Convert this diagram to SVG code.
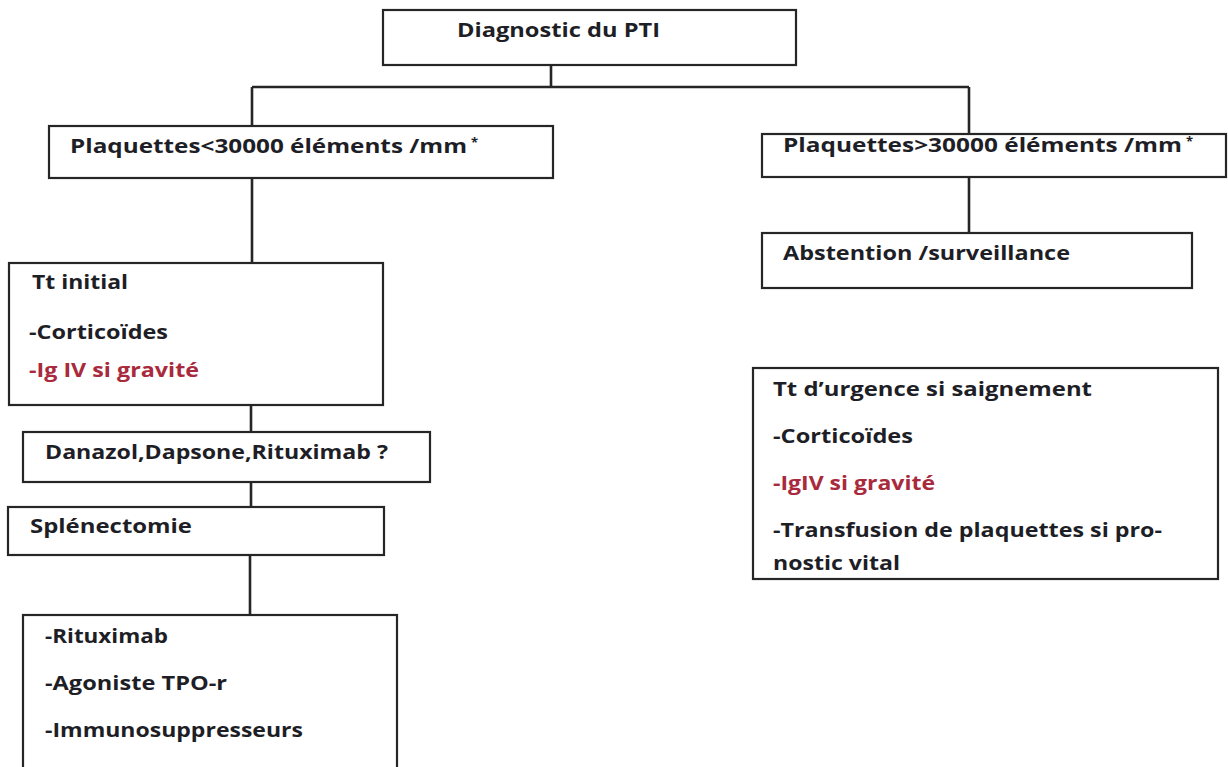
<svg xmlns="http://www.w3.org/2000/svg" width="1228" height="767" viewBox="0 0 1228 767">
<style>
.box{fill:#ffffff;stroke:#262626;stroke-width:2.2}
.c{fill:none;stroke:#262626;stroke-width:2.6}
.t{font-family:"Open Sans","Liberation Sans",sans-serif;font-weight:700;font-size:19px;fill:#1e1e26}
.r{fill:#a82a3c}
.s{font-size:13px}
</style>
<rect width="1228" height="767" fill="#ffffff"/>
<g id="connectors">
<path class="c" d="M551 65V87M252 87H969M252 87V126M969 87V134M252 178V263M969 177V233M251 405V432M251 482V507M250 555V615"/>
</g>
<g id="n_diag">
<rect class="box" x="383" y="10" width="413" height="55"/>
<text class="t" x="457" y="37" textLength="203" lengthAdjust="spacingAndGlyphs">Diagnostic du PTI</text>
</g>
<g id="n_low">
<rect class="box" x="49" y="126" width="504" height="52"/>
<text class="t" x="70" y="153"><tspan textLength="397" lengthAdjust="spacingAndGlyphs">Plaquettes&lt;30000 éléments /mm</tspan><tspan class="s" dx="4" dy="-6">*</tspan></text>
</g>
<g id="n_high">
<rect class="box" x="762" y="134" width="464" height="43"/>
<text class="t" x="783" y="152"><tspan textLength="399" lengthAdjust="spacingAndGlyphs">Plaquettes&gt;30000 éléments /mm</tspan><tspan class="s" dx="4" dy="-6">*</tspan></text>
</g>
<g id="n_abst">
<rect class="box" x="762" y="233" width="430" height="55"/>
<text class="t" x="783" y="260" textLength="287" lengthAdjust="spacingAndGlyphs">Abstention /surveillance</text>
</g>
<g id="n_init">
<rect class="box" x="9" y="263" width="374" height="142"/>
<text class="t" x="32" y="289" textLength="96" lengthAdjust="spacingAndGlyphs">Tt initial</text>
<text class="t" x="29" y="339" textLength="139" lengthAdjust="spacingAndGlyphs">-Corticoïdes</text>
<text class="t r" x="29" y="377" textLength="170" lengthAdjust="spacingAndGlyphs">-Ig IV si gravité</text>
</g>
<g id="n_danazol">
<rect class="box" x="23" y="432" width="407" height="50"/>
<text class="t" x="45" y="459" textLength="343" lengthAdjust="spacingAndGlyphs">Danazol,Dapsone,Rituximab ?</text>
</g>
<g id="n_splen">
<rect class="box" x="8" y="507" width="376" height="48"/>
<text class="t" x="30" y="533" textLength="162" lengthAdjust="spacingAndGlyphs">Splénectomie</text>
</g>
<g id="n_after">
<rect class="box" x="23" y="615" width="374" height="160"/>
<text class="t" x="45" y="643" textLength="123" lengthAdjust="spacingAndGlyphs">-Rituximab</text>
<text class="t" x="45" y="690" textLength="182" lengthAdjust="spacingAndGlyphs">-Agoniste TPO-r</text>
<text class="t" x="45" y="737" textLength="258" lengthAdjust="spacingAndGlyphs">-Immunosuppresseurs</text>
</g>
<g id="n_urgence">
<rect class="box" x="753" y="368" width="465" height="211"/>
<text class="t" x="773" y="396" textLength="319" lengthAdjust="spacingAndGlyphs">Tt d’urgence si saignement</text>
<text class="t" x="773" y="443" textLength="140" lengthAdjust="spacingAndGlyphs">-Corticoïdes</text>
<text class="t r" x="773" y="490" textLength="162" lengthAdjust="spacingAndGlyphs">-IgIV si gravité</text>
<text class="t" x="773" y="537" textLength="389" lengthAdjust="spacingAndGlyphs">-Transfusion de plaquettes si pro-</text>
<text class="t" x="773" y="570" textLength="127" lengthAdjust="spacingAndGlyphs">nostic vital</text>
</g>
</svg>
